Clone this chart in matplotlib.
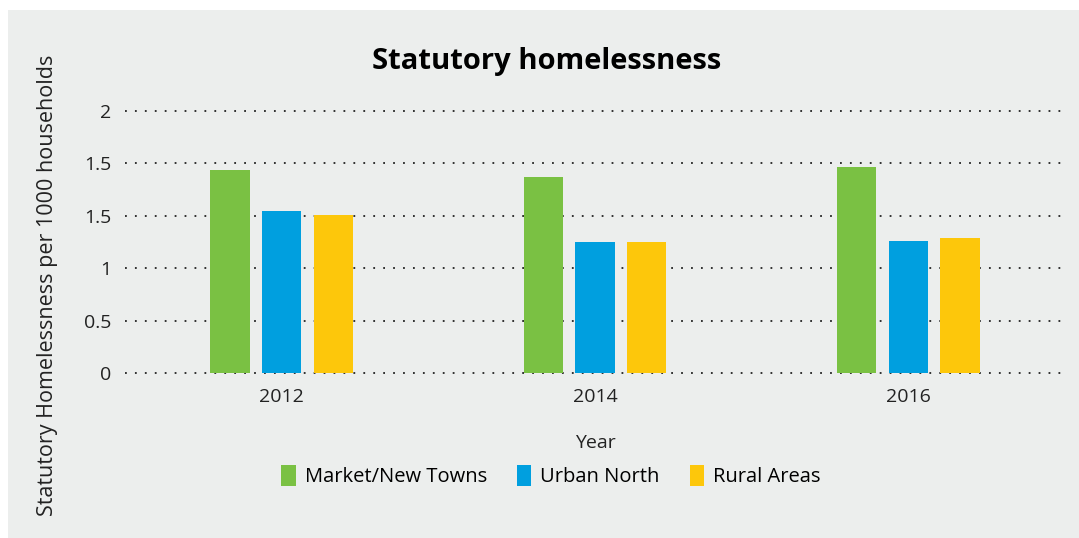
import matplotlib
matplotlib.use("Agg")
import matplotlib.pyplot as plt
import numpy as np
from matplotlib.patches import Rectangle

years = ["2012", "2014", "2016"]
market_towns = [1.94, 1.87, 1.97]
urban_north = [1.55, 1.25, 1.26]
rural_areas = [1.51, 1.25, 1.29]

series_names = ["Market/New Towns", "Urban North", "Rural Areas"]
colors = ["#7AC143", "#009FDF", "#FDC70B"]

tick_pos = [0, 0.5, 1, 1.5, 2, 2.5]
tick_labels = ["0", "0.5", "1", "1.5", "1.5", "2"]

bg = "#ECEEED"
plt.rcParams["font.family"] = ["Open Sans", "DejaVu Sans"]

fig = plt.figure(figsize=(10.79, 5.38), dpi=100)
fig.patch.set_facecolor("white")
# grey panel, leaving a thin white strip on the top and left
fig.add_artist(Rectangle((8 / 1079, 0), 1, 1 - 10 / 538, transform=fig.transFigure,
                         facecolor=bg, edgecolor="none", zorder=-10))

ax = fig.add_axes([125 / 1079, 1 - 373 / 538, 940 / 1079, 262 / 538])
ax.set_facecolor(bg)

x = np.arange(len(years))
width = 0.125
step = 0.165
for i, (vals, name, c) in enumerate(zip([market_towns, urban_north, rural_areas],
                                        series_names, colors)):
    ax.bar(x + (i - 1) * step, vals, width, color=c, label=name, zorder=3)

ax.set_xlim(-0.5, 2.5)
ax.set_ylim(0, 2.5)
ax.set_yticks(tick_pos)
ax.set_yticklabels(tick_labels)
ax.set_xticks(x)
ax.set_xticklabels(years)
ax.tick_params(axis="both", length=0, labelsize=14, colors="#222222")
ax.tick_params(axis="y", pad=10)
ax.tick_params(axis="x", pad=11)

ax.yaxis.grid(True, color="#222222", linestyle=(0, (1, 4.5)), linewidth=1.3, clip_on=False)
ax.set_axisbelow(True)
for s in ax.spines.values():
    s.set_visible(False)

ax.set_xlabel("Year", fontsize=14, color="#222222", labelpad=20)
fig.text(48 / 1079, 1 - 285 / 538, "Statutory Homelessness per 1000 households", rotation=90,
         ha="center", va="center", fontsize=15.5, color="#222222")
fig.text(547 / 1079, 1 - 62 / 538, "Statutory homelessness", ha="center", va="center",
         fontsize=21, fontweight="bold", color="black")

fig.legend(loc="center", bbox_to_anchor=(551 / 1079, 1 - 476 / 538), ncol=3,
           frameon=False, fontsize=14.5, handlelength=0.7, handleheight=1.2,
           handletextpad=0.45, columnspacing=1.5)

fig.savefig("out.png", dpi=100, facecolor=fig.get_facecolor())
